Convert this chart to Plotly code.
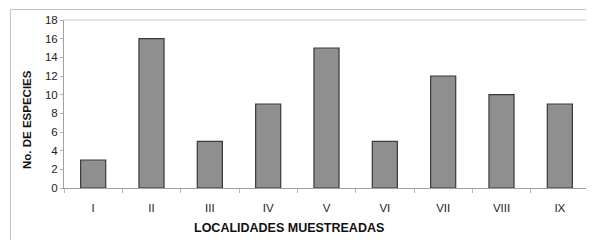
import plotly.graph_objects as go

categories = ["I", "II", "III", "IV", "V", "VI", "VII", "VIII", "IX"]
species = [3, 16, 5, 9, 15, 5, 12, 10, 9]
y_ticks = [0, 2, 4, 6, 8, 10, 12, 14, 16, 18]

# page body has an 8px default margin; design in screen pixels and offset
OFF = 8
W, H = 594 - OFF, 240 - OFF
L, R, T, B = 64 - OFF, 5, 20 - OFF, 240 - 188
pw, ph = W - L - R, H - T - B

def px(x):
    return (x - OFF - L) / pw

def py(y):
    return (H - B - (y - OFF)) / ph

fig = go.Figure(go.Bar(
    x=categories, y=species, width=0.43,
    marker=dict(color="#8f8f8f", line=dict(color="#3a3a3a", width=1.2)),
))

font = "Liberation Sans, Arial, sans-serif"
fig.update_layout(
    width=W, height=H,
    margin=dict(l=L, r=R, t=T, b=B, autoexpand=False),
    paper_bgcolor="white", plot_bgcolor="white",
    showlegend=False,
    font=dict(family=font, size=11, color="#222"),
    xaxis=dict(
        type="category", tickson="boundaries", ticks="outside", ticklen=4,
        tickcolor="#b0b0b0", showline=True, linecolor="#a0a0a0", linewidth=1,
        showgrid=False, tickfont=dict(size=11.5, color="#222"), automargin=False,
        ticklabelstandoff=9,
    ),
    yaxis=dict(
        range=[0, 18], tickvals=y_ticks, ticks="outside", ticklen=3,
        tickcolor="#b0b0b0", showline=True, linecolor="#a0a0a0", linewidth=1,
        showgrid=False, zeroline=False, tickfont=dict(size=11.5, color="#222"),
        automargin=False,
    ),
    shapes=[
        dict(type="line", xref="paper", yref="paper", x0=0, x1=1, y0=1, y1=1,
             line=dict(color="#c8c8c8", width=1)),
        dict(type="line", xref="paper", yref="paper", x0=1, x1=1, y0=0, y1=1,
             line=dict(color="#c8c8c8", width=1)),
        dict(type="line", xref="paper", yref="paper", x0=px(10.5), x1=px(600),
             y0=py(9.5), y1=py(9.5), line=dict(color="#c4c4c4", width=1)),
        dict(type="line", xref="paper", yref="paper", x0=px(10.5), x1=px(10.5),
             y0=py(9.5), y1=py(250), line=dict(color="#c4c4c4", width=1)),
    ],
    annotations=[
        dict(text="<b>LOCALIDADES MUESTREADAS</b>", xref="paper", yref="paper",
             x=px(289), y=py(228), xanchor="center", yanchor="middle",
             showarrow=False, font=dict(size=12.5, color="#111")),
        dict(text="<b>No. DE ESPECIES</b>", xref="paper", yref="paper",
             x=px(27), y=py(120), xanchor="center", yanchor="middle",
             textangle=-90, showarrow=False, font=dict(size=11.5, color="#111")),
    ],
)

fig.write_html("out.html")
